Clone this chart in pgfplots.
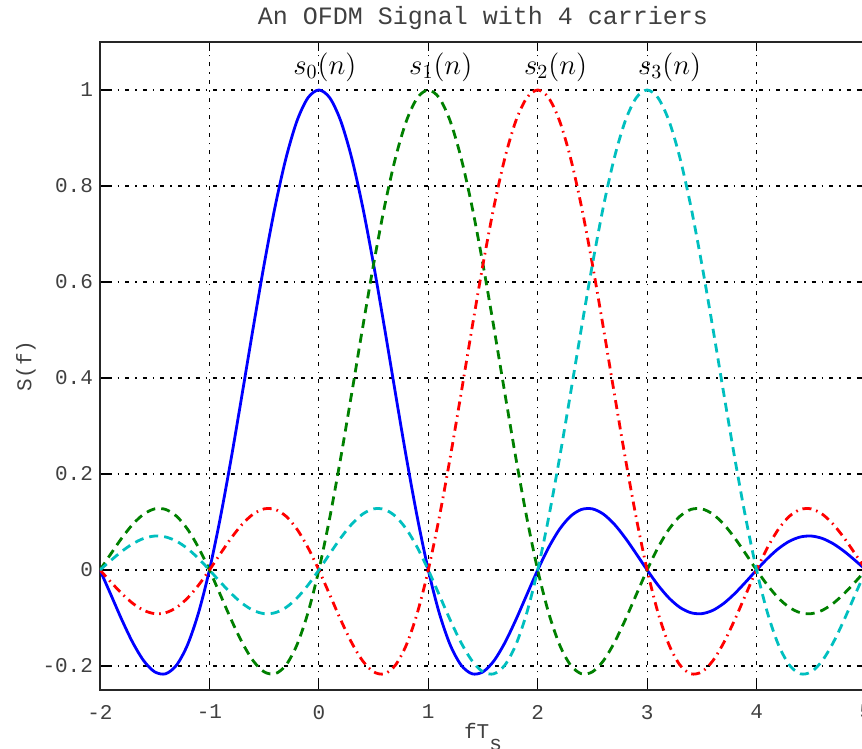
\documentclass[border=0pt]{standalone}
\usepackage{fontspec}
\setmonofont{Liberation Mono}
\usepackage{pgfplots}
\pgfplotsset{compat=1.18}
\usepackage{pgfplotstable}

\definecolor{mblue}{rgb}{0,0,1}
\definecolor{mgreen}{rgb}{0,0.5,0}
\definecolor{mred}{rgb}{1,0,0}
\definecolor{mcyan}{rgb}{0,0.75,0.75}

% four shifted sinc carriers, sampled every 0.1
\pgfplotstableread{
x s0 s1 s2 s3
-2.0 0 0 0 0
-1.9 -0.05177 0.03392 -0.02522 0.02007
-1.8 -0.10394 0.06682 -0.04924 0.03898
-1.7 -0.15148 0.09538 -0.06960 0.05479
-1.6 -0.18921 0.11643 -0.08409 0.06581
-1.5 -0.21221 0.12732 -0.09095 0.07074
-1.4 -0.21624 0.12614 -0.08904 0.06880
-1.3 -0.19809 0.11196 -0.07804 0.05989
-1.2 -0.15592 0.08504 -0.05847 0.04455
-1.1 -0.08942 0.04684 -0.03173 0.02399
-1.0 0 0 0 0
-0.9 0.10929 -0.05177 0.03392 -0.02522
-0.8 0.23387 -0.10394 0.06682 -0.04924
-0.7 0.36788 -0.15148 0.09538 -0.06960
-0.6 0.50455 -0.18921 0.11643 -0.08409
-0.5 0.63662 -0.21221 0.12732 -0.09095
-0.4 0.75683 -0.21624 0.12614 -0.08904
-0.3 0.85839 -0.19809 0.11196 -0.07804
-0.2 0.93549 -0.15592 0.08504 -0.05847
-0.1 0.98363 -0.08942 0.04684 -0.03173
0.0 1 0 0 0
0.1 0.98363 0.10929 -0.05177 0.03392
0.2 0.93549 0.23387 -0.10394 0.06682
0.3 0.85839 0.36788 -0.15148 0.09538
0.4 0.75683 0.50455 -0.18921 0.11643
0.5 0.63662 0.63662 -0.21221 0.12732
0.6 0.50455 0.75683 -0.21624 0.12614
0.7 0.36788 0.85839 -0.19809 0.11196
0.8 0.23387 0.93549 -0.15592 0.08504
0.9 0.10929 0.98363 -0.08942 0.04684
1.0 0 1 0 0
1.1 -0.08942 0.98363 0.10929 -0.05177
1.2 -0.15592 0.93549 0.23387 -0.10394
1.3 -0.19809 0.85839 0.36788 -0.15148
1.4 -0.21624 0.75683 0.50455 -0.18921
1.5 -0.21221 0.63662 0.63662 -0.21221
1.6 -0.18921 0.50455 0.75683 -0.21624
1.7 -0.15148 0.36788 0.85839 -0.19809
1.8 -0.10394 0.23387 0.93549 -0.15592
1.9 -0.05177 0.10929 0.98363 -0.08942
2.0 0 0 1 0
2.1 0.04684 -0.08942 0.98363 0.10929
2.2 0.08504 -0.15592 0.93549 0.23387
2.3 0.11196 -0.19809 0.85839 0.36788
2.4 0.12614 -0.21624 0.75683 0.50455
2.5 0.12732 -0.21221 0.63662 0.63662
2.6 0.11643 -0.18921 0.50455 0.75683
2.7 0.09538 -0.15148 0.36788 0.85839
2.8 0.06682 -0.10394 0.23387 0.93549
2.9 0.03392 -0.05177 0.10929 0.98363
3.0 0 0 0 1
3.1 -0.03173 0.04684 -0.08942 0.98363
3.2 -0.05847 0.08504 -0.15592 0.93549
3.3 -0.07804 0.11196 -0.19809 0.85839
3.4 -0.08904 0.12614 -0.21624 0.75683
3.5 -0.09095 0.12732 -0.21221 0.63662
3.6 -0.08409 0.11643 -0.18921 0.50455
3.7 -0.06960 0.09538 -0.15148 0.36788
3.8 -0.04924 0.06682 -0.10394 0.23387
3.9 -0.02522 0.03392 -0.05177 0.10929
4.0 0 0 0 0
4.1 0.02399 -0.03173 0.04684 -0.08942
4.2 0.04455 -0.05847 0.08504 -0.15592
4.3 0.05989 -0.07804 0.11196 -0.19809
4.4 0.06880 -0.08904 0.12614 -0.21624
4.5 0.07074 -0.09095 0.12732 -0.21221
4.6 0.06581 -0.08409 0.11643 -0.18921
4.7 0.05479 -0.06960 0.09538 -0.15148
4.8 0.03898 -0.04924 0.06682 -0.10394
4.9 0.02007 -0.02522 0.03392 -0.05177
5.0 0 0 0 0
}\carriers

\begin{document}
\begin{tikzpicture}
\begin{axis}[
  name=ax,
  scale only axis,
  width=383pt, height=324pt,
  xmin=-2, xmax=5, ymin=-0.25, ymax=1.1,
  xtick={-2,-1,0,1,2,3,4,5},
  ytick={-0.2,0,0.2,0.4,0.6,0.8,1},
  tick align=inside,
  major tick length=4.5pt,
  tick style={black, line width=0.6pt},
  axis line style={black!85, line width=0.8pt},
  grid=major,
  grid style={black, line width=0.55pt, dash pattern=on 0.8pt off 3pt on 2pt off 3pt},
  /pgf/number format/assume math mode=true,
  /pgf/number format/fixed,
  ticklabel style={font=\ttfamily\fontsize{10.5}{12}\selectfont, text=black!75},
  xticklabel style={yshift=-4pt},
  title={An OFDM Signal with 4 carriers},
  title style={font=\ttfamily\fontsize{12.5}{14}\selectfont, text=black!75, yshift=-3.5pt},
  xlabel={fT\raisebox{-0.6em}{s}},
  ylabel={S(f)},
  label style={font=\ttfamily\fontsize{10.5}{12}\selectfont, text=black!75},
  xlabel style={yshift=5pt},
  ylabel style={yshift=-3.5pt},
  every axis plot/.append style={line width=1.4pt, smooth},
]
\addplot[mblue, solid] table[x=x, y=s0] {\carriers};
\addplot[mgreen, dash pattern=on 4.5pt off 3pt] table[x=x, y=s1] {\carriers};
\addplot[mred, dash pattern=on 4.5pt off 2.5pt on 0.8pt off 2.5pt] table[x=x, y=s2] {\carriers};
\addplot[mcyan, dash pattern=on 4.5pt off 3pt] table[x=x, y=s3] {\carriers};

\node[font=\fontsize{14}{16}\selectfont] at (axis cs:0.055,1.048) {$s_0(n)$};
\node[font=\fontsize{14}{16}\selectfont] at (axis cs:1.114,1.048) {$s_1(n)$};
\node[font=\fontsize{14}{16}\selectfont] at (axis cs:2.164,1.048) {$s_2(n)$};
\node[font=\fontsize{14}{16}\selectfont] at (axis cs:3.205,1.048) {$s_3(n)$};
\end{axis}
\pgfresetboundingbox
\path[use as bounding box] ([xshift=-50pt,yshift=-29.5pt]ax.south west) rectangle ++(431pt,374.5pt);
\end{tikzpicture}
\end{document}
